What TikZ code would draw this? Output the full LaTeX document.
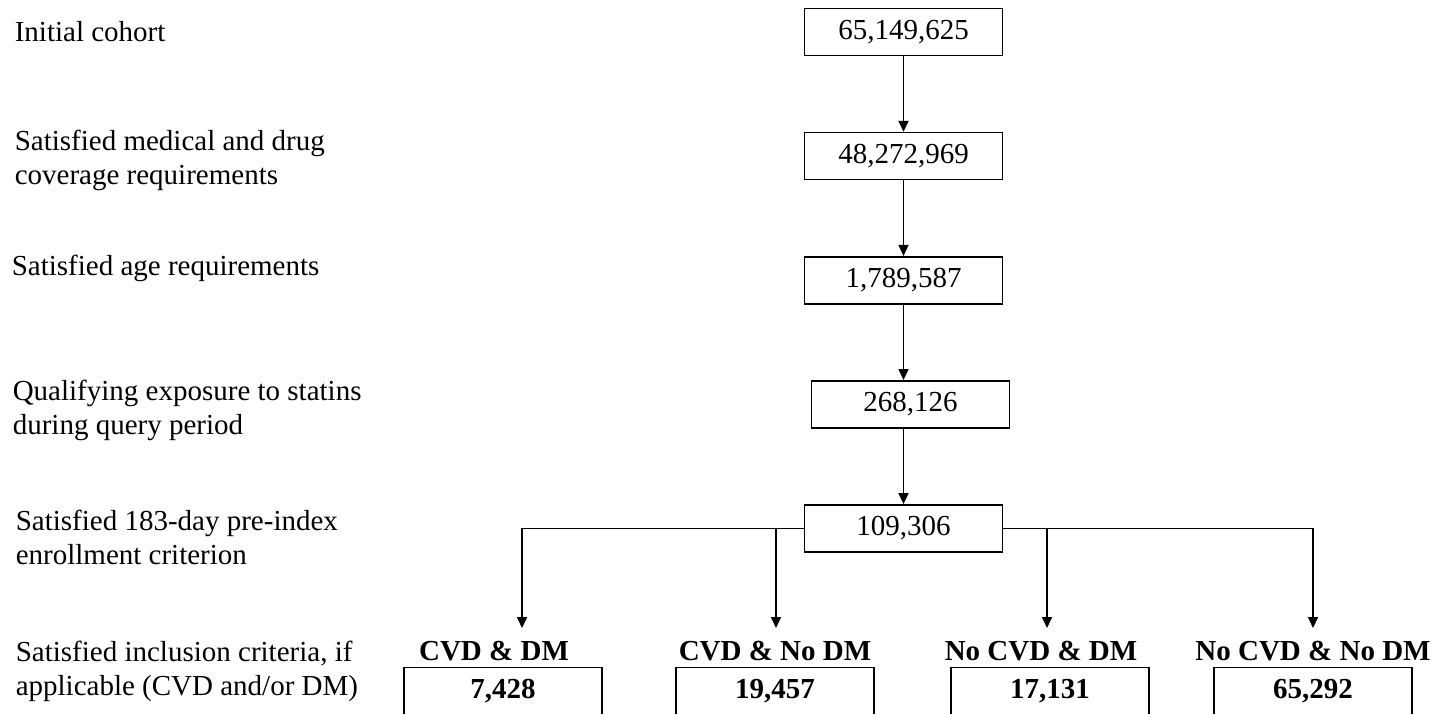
\documentclass[tikz,border=0pt]{standalone}
\usepackage{fontspec}
\setmainfont{Liberation Serif}
\usetikzlibrary{arrows.meta,positioning}

\begin{document}
\begin{tikzpicture}[
        x=0.5pt, y=-0.5pt,
        node distance=37.75pt,
        line width=0.8pt,
        every node/.style={font=\fontsize{14.5}{17}\selectfont},
        >={Triangle[width=5pt,length=5.5pt]},
        count/.style={draw, minimum width=99pt, minimum height=23.5pt, inner sep=0pt},
        group/.style={draw, minimum width=99pt, minimum height=23.5pt, inner sep=0pt, font=\fontsize{14.5}{17}\selectfont\bfseries},
        grouplabel/.style={inner sep=0pt, font=\fontsize{14.5}{17}\selectfont\bfseries},
        steptext/.style={anchor=base west, align=left, inner sep=0pt}
    ]

    \clip (0,0) rectangle (1449,713);

    % Counts
    \node[count] (initial) at (903.5,32) {65,149,625};
    \node[count, below=of initial] (coverage) {48,272,969};
    \node[count, below=of coverage] (age) {1,789,587};
    \node[count, below=of age, xshift=3.5pt] (statins) {268,126};
    \node[count, below=of statins, xshift=-3.5pt] (enroll) {109,306};

    % Groups
    \node[group] (cvddm) at (503,691) {7,428};
    \node[group] (cvdnodm) at (775,691) {19,457};
    \node[group] (nocvddm) at (1050,691) {17,131};
    \node[group] (nocvdnodm) at (1313,691) {65,292};

    \node[grouplabel, above=2.5pt of cvddm, xshift=-4.5pt] {CVD \& DM};
    \node[grouplabel, above=2.5pt of cvdnodm] {CVD \& No DM};
    \node[grouplabel, above=2.5pt of nocvddm, xshift=-4.5pt] {No CVD \& DM};
    \node[grouplabel, above=2.5pt of nocvdnodm] {No CVD \& No DM};

    % Steps (base = last line)
    \node[steptext] (s1) at (14,41) {Initial cohort};
    \node[steptext] (s2) at (14,184) {Satisfied medical and drug\\coverage requirements};
    \node[steptext] (s3) at (11,275) {Satisfied age requirements};
    \node[steptext] (s4) at (12,434) {Qualifying exposure to statins\\during query period};
    \node[steptext] (s5) at (15,564) {Satisfied 183-day pre-index\\enrollment criterion};
    \node[steptext] (s6) at (15,695) {Satisfied inclusion criteria, if\\applicable (CVD and/or DM)};

    % Drops
    \coordinate (d1) at (522,628);
    \coordinate (d2) at (776,628);
    \coordinate (d3) at (1047,628);
    \coordinate (d4) at (1313,628);

    % Arrows
    \draw[->] (initial) -- (coverage);
    \draw[->] (coverage) -- (age);
    \draw[->] (age) -- (age |- statins.north);
    \draw[->] (age |- statins.south) -- (enroll);
    \draw[->] (enroll.west) -| (d1);
    \draw[->] (enroll.east) -| (d4);
    \draw[->] (enroll.west -| d2) -- (d2);
    \draw[->] (enroll.east -| d3) -- (d3);

\end{tikzpicture}
\end{document}
